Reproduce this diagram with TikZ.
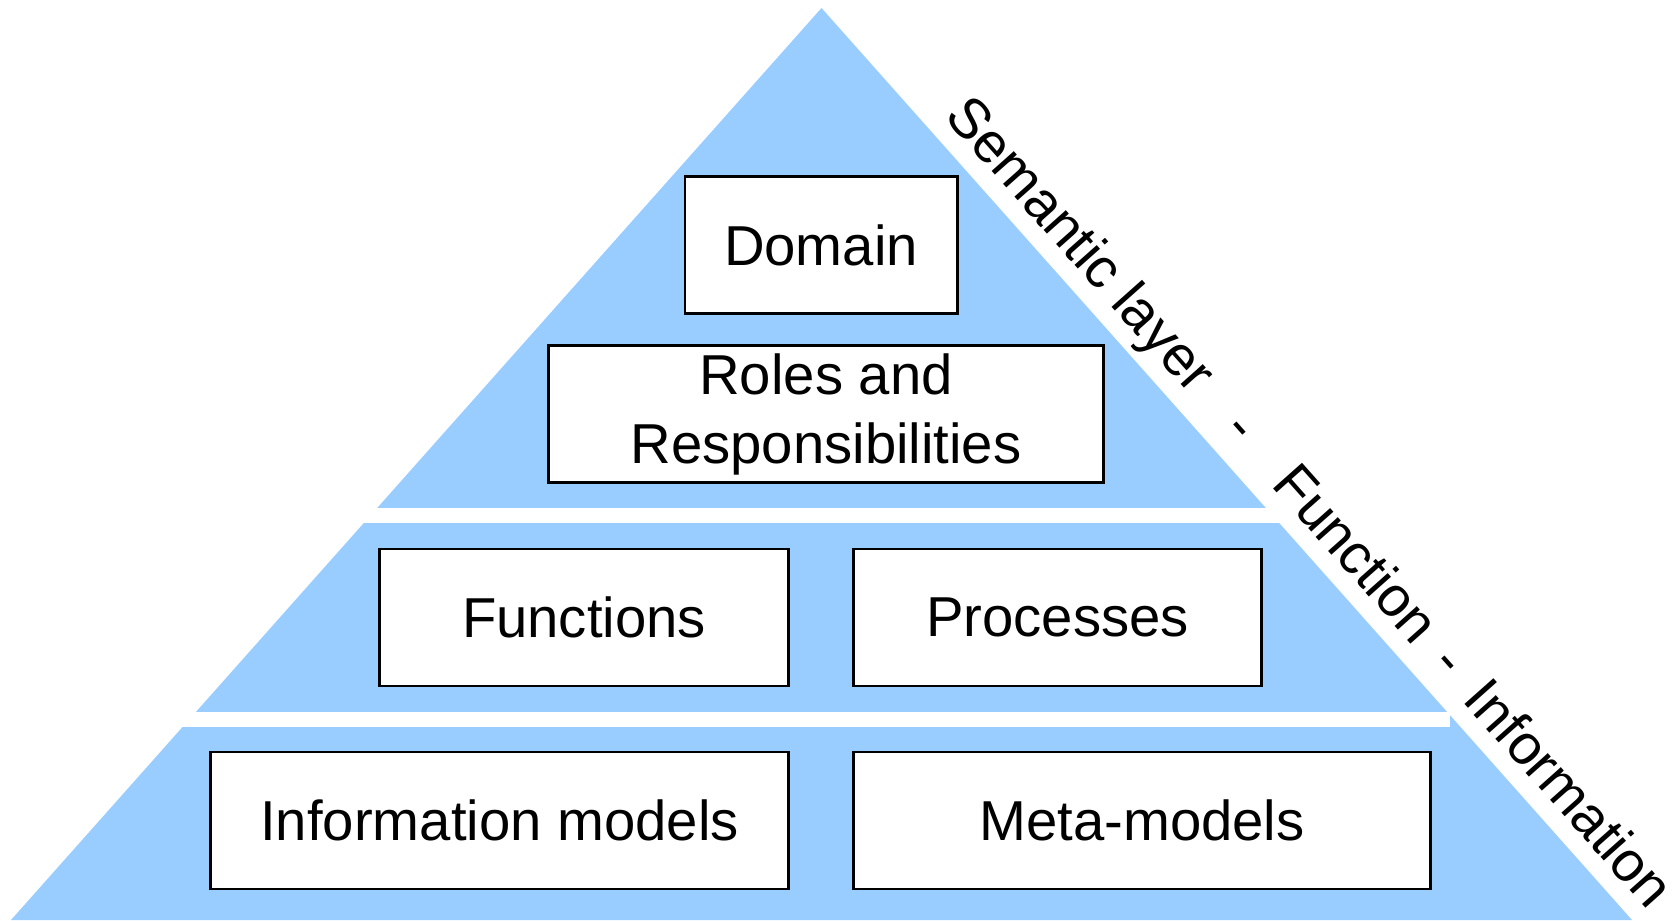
\documentclass[tikz,border=0pt]{standalone}
\usepackage{fontspec}
\setmainfont{Liberation Sans}
\definecolor{layerblue}{RGB}{153,204,255}

\begin{document}
\begin{tikzpicture}[x=0.01cm, y=-0.01cm,
		box/.style={draw, line width=0.8pt, fill=white, align=center, inner sep=0pt, minimum height=1.37cm, font=\fontsize{16}{19.6}\selectfont},
		sidetext/.style={rotate=-48.38, anchor=base west, inner sep=0pt, font=\fontsize{16}{19.6}\selectfont}]
		\useasboundingbox (0,0) rectangle (1679,920);
		% pyramid, cut into three layers
		\fill[layerblue] (821.5,8) -- (1632,920) -- (11,920) -- cycle;
		\fill[white] (0,508.3) rectangle (1300,523.3);
		\fill[white] (0,711.5) rectangle (1450,726.7);
		\foreach \name/\x/\y/\w/\txt in {
			domain/821/245/2.72/Domain,
			roles/826/414.3/5.54/{Roles and\\Responsibilities},
			functions/584/617.5/4.08/Functions,
			processes/1057.5/617.5/4.07/Processes,
			infomodels/499.5/820.5/5.77/Information models,
			metamodels/1142/820.5/5.76/Meta-models} {
			\node[box, minimum width=\w cm] (\name) at (\x,\y) {\txt};
		}
		\node[sidetext] (sidelabel) at (943,117) {Semantic layer\hspace{0.85em}-\hspace{0.95em}Function\hspace{0.45em}-\hspace{0.5em}Information};
	\end{tikzpicture}
\end{document}
